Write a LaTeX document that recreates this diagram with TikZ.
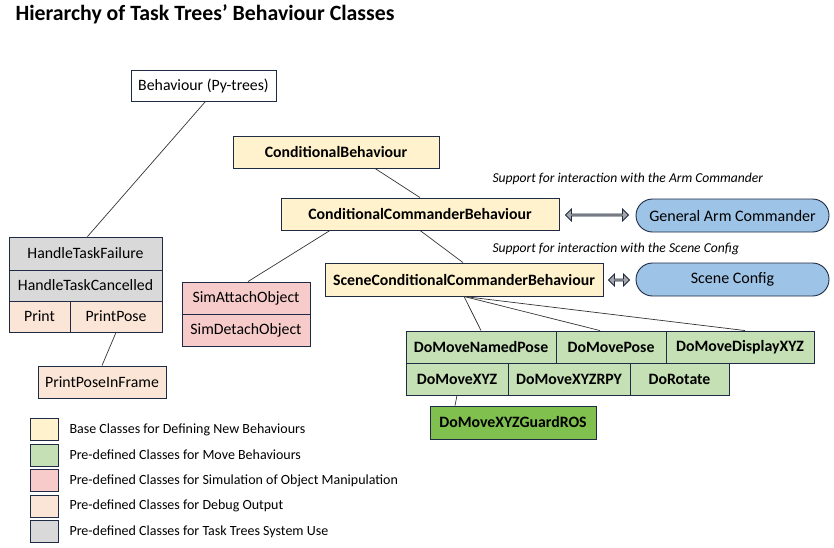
\documentclass[tikz,border=0pt]{standalone}
\usepackage{fontspec}
\setmainfont{Carlito}
\usetikzlibrary{shapes.arrows,shapes.misc}
\definecolor{baseY}{HTML}{FFF2CC}
\definecolor{moveG}{HTML}{C5E0B4}
\definecolor{guardG}{HTML}{7FC04F}
\definecolor{simP}{HTML}{F8CBCB}
\definecolor{dbgO}{HTML}{FBE5D6}
\definecolor{sysG}{HTML}{D9D9D9}
\definecolor{cmdB}{HTML}{9DC3E6}
\definecolor{edge}{HTML}{1F2A44}
\tikzset{
  cls/.style={draw=edge, line width=0.9pt, inner sep=0pt, font=\fontsize{15.8}{18}\selectfont},
  bcls/.style={cls, font=\fontsize{15.8}{18}\selectfont\bfseries},
  iface/.style={cls, rounded rectangle, fill=cmdB, minimum width=193pt, minimum height=33pt, font=\fontsize{16}{18}\selectfont},
  link/.style={line width=0.7pt, draw=black!80},
  bus/.style={double arrow, draw=edge, fill=gray!70, line width=0.8pt, minimum height=#1, minimum width=12pt, double arrow head extend=2pt, inner sep=0pt},
  note/.style={font=\fontsize{13.6}{15}\selectfont\itshape, anchor=west},
  key/.style={draw=edge, line width=0.7pt, minimum width=28pt, minimum height=22pt, inner sep=0pt},
  keytxt/.style={font=\fontsize{14}{16}\selectfont, anchor=west}
}
\begin{document}
\begin{tikzpicture}[x=1pt,y=-1pt]
\useasboundingbox (0,0) rectangle (834,547);
\node[anchor=west, font=\fontsize{21.8}{25}\selectfont\bfseries] (title) at (12,14) {Hierarchy of Task Trees’ Behaviour Classes};

% main chain
\node[cls, fill=white, minimum width=145pt, minimum height=31pt] (beh) at (203.5,85.5) {Behaviour (Py-trees)};
\node[bcls, fill=baseY, minimum width=206pt, minimum height=32pt] (cond) at (336,152) {ConditionalBehaviour};
\node[bcls, fill=baseY, minimum width=278pt, minimum height=32pt] (ccb) at (420,214) {ConditionalCommanderBehaviour};
\node[bcls, fill=baseY, minimum width=278pt, minimum height=33pt] (sccb) at (464,279.5) {SceneConditionalCommanderBehaviour};

% interfaces
\node[iface] (arm) at (732.5,215.5) {General Arm Commander};
\node[iface] (scene) at (732.5,279.5) {Scene Config};
\node[bus=63pt] (armbus) at (597,215) {};
\node[bus=21pt] (scenebus) at (619,280) {};
\node[note] (armnote) at (489,179) {Support for interaction with the Arm Commander};
\node[note] (scenenote) at (489,249) {Support for interaction with the Scene Config};

% system / debug
\node[cls, fill=sysG, minimum width=153pt, minimum height=33pt] (fail) at (85.5,253.5) {HandleTaskFailure};
\node[cls, fill=sysG, minimum width=153pt, minimum height=31pt] (cancel) at (85.5,285.5) {HandleTaskCancelled};
\node[cls, fill=dbgO, minimum width=61pt, minimum height=31pt] (print) at (39.5,316.5) {Print};
\node[cls, fill=dbgO, minimum width=92pt, minimum height=31pt] (ppose) at (116,316.5) {PrintPose};
\node[cls, fill=dbgO, minimum width=128pt, minimum height=32pt] (pframe) at (102,382) {PrintPoseInFrame};

% simulation
\node[cls, fill=simP, minimum width=128pt, minimum height=32pt] (attach) at (246,298) {SimAttachObject};
\node[cls, fill=simP, minimum width=128pt, minimum height=32pt] (detach) at (246,330) {SimDetachObject};

% move
\node[bcls, fill=moveG, minimum width=150pt, minimum height=32pt] (named) at (481,347) {DoMoveNamedPose};
\node[bcls, fill=moveG, minimum width=110pt, minimum height=32pt] (pose) at (611,347) {DoMovePose};
\node[bcls, fill=moveG, minimum width=148pt, minimum height=32pt] (disp) at (740,347) {DoMoveDisplayXYZ};
\node[bcls, fill=moveG, minimum width=102pt, minimum height=32pt] (xyz) at (457,379) {DoMoveXYZ};
\node[bcls, fill=moveG, minimum width=122pt, minimum height=32pt] (rpy) at (569,379) {DoMoveXYZRPY};
\node[bcls, fill=moveG, minimum width=99pt, minimum height=32pt] (rot) at (679.5,379) {DoRotate};
\node[bcls, fill=guardG, minimum width=166pt, minimum height=33pt] (guard) at (513,422.5) {DoMoveXYZGuardROS};

% links
\draw[link] ([xshift=2pt]beh.south) -- ([xshift=2pt]fail.north);
\draw[link] ([xshift=39pt]cond.south) -- (ccb.north);
\draw[link] (ccb.south) -- ([xshift=-1pt]sccb.north);
\draw[link] ([xshift=-90pt]ccb.south) -- ([xshift=2pt]attach.north);
\draw[link] (sccb.south) -- (named.north);
\draw[link] (sccb.south) -- ([xshift=-11pt]pose.north);
\draw[link] (sccb.south) -- ([xshift=5pt]disp.north);
\draw[link] (ppose.south) -- (pframe.north);
\draw[link] (xyz.south) -- ([xshift=-58pt]guard.north);

% legend
\foreach \c/\t [count=\i] in {baseY/Base Classes for Defining New Behaviours,
  moveG/Pre-defined Classes for Move Behaviours,
  simP/Pre-defined Classes for Simulation of Object Manipulation,
  dbgO/Pre-defined Classes for Debug Output,
  sysG/Pre-defined Classes for Task Trees System Use}{
  \node[key, fill=\c] (key\i) at (44,404+25.5*\i) {};
  \node[keytxt] (keytxt\i) at (66,404+25.5*\i) {\t};
}
\end{tikzpicture}
\end{document}
